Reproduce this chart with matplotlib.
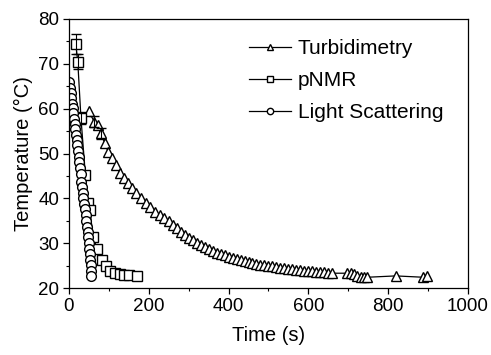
import matplotlib
matplotlib.use("Agg")
import matplotlib.pyplot as plt
from matplotlib.ticker import MultipleLocator

plt.rcParams['font.family'] = ['Liberation Sans', 'DejaVu Sans']

# Turbidimetry
turb_t = [50, 63, 72, 79, 90, 98, 108, 117, 127, 138, 148, 158, 169, 180, 192, 202,
          215, 227, 238, 250, 260, 270, 280, 290, 300, 310, 320, 330, 340, 350, 360,
          370, 380, 390, 400, 410, 420, 430, 440, 450, 460, 470, 480, 490, 500, 510,
          520, 530, 540, 550, 560, 570, 580, 590, 600, 610, 620, 630, 640, 650, 660,
          698, 707, 715, 723, 732, 740, 748, 819, 888, 898]
turb_T = [59.4, 57.1, 56.4, 54.5, 52.3, 50.4, 48.9, 47.5, 45.7, 44.5, 43.4, 42.3, 41.1,
          40.0, 38.9, 38.0, 37.0, 36.3, 35.6, 34.9, 34.1, 33.3, 32.6, 31.9, 31.2, 30.6,
          30.1, 29.6, 29.1, 28.7, 28.3, 27.9, 27.6, 27.3, 27.0, 26.7, 26.5, 26.2, 26.0,
          25.8, 25.6, 25.4, 25.2, 25.1, 24.9, 24.8, 24.6, 24.5, 24.4, 24.3, 24.2, 24.1,
          24.0, 23.9, 23.8, 23.7, 23.6, 23.6, 23.5, 23.4, 23.3,
          23.3, 23.4, 23.1, 22.7, 22.4, 22.4, 22.4, 22.7, 22.4, 22.7]
turb_err_idx = [1, 3]
turb_err = [1.2, 1.2]

# pNMR
nmr_t = [17, 22, 30, 41, 48, 52, 61, 71, 82, 92, 102, 115, 127, 138, 150, 170]
nmr_T = [74.5, 70.5, 57.9, 45.3, 38.9, 37.4, 31.3, 28.6, 26.2, 24.9, 23.8, 23.3,
         23.1, 22.9, 22.8, 22.7]
nmr_err = [2.2, 1.7, 1.4]

# Light scattering
ls_t = [1, 2.5, 4, 6, 7.5, 9, 11, 12.5, 14, 16, 17.5, 19, 21, 22.5, 24, 26, 27.5,
        29, 31, 33, 34, 36, 38, 40, 42, 43, 46, 47.5, 48.5, 50, 51, 52, 53, 54, 54.5, 55]
ls_T = [65.9, 64.7, 63.6, 62.3, 61.1, 60.1, 59.0, 57.7, 56.6, 55.4, 54.2, 53.0, 51.9,
        50.6, 49.3, 48.1, 46.8, 45.4, 43.7, 42.5, 41.1, 40.0, 38.8, 37.6, 36.3, 35.0,
        33.7, 32.4, 31.3, 30.0, 28.7, 27.5, 26.3, 25.1, 23.9, 22.7]

fig = plt.figure(figsize=(4.91, 3.55), dpi=100)
ax = fig.add_axes([0.1405, 0.1887, 0.8125, 0.7578])

mk = dict(markerfacecolor='white', markeredgecolor='black', markeredgewidth=1.0,
          color='black', linewidth=0.9)

ax.plot(turb_t, turb_T, marker='^', markersize=7, label='Turbidimetry', **mk)
ax.errorbar([turb_t[i] for i in turb_err_idx], [turb_T[i] for i in turb_err_idx],
            yerr=turb_err, fmt='none', ecolor='black', elinewidth=0.8, capsize=3.5)
ax.plot(nmr_t, nmr_T, marker='s', markersize=7, label='pNMR', **mk)
ax.errorbar(nmr_t[:3], nmr_T[:3], yerr=nmr_err, fmt='none', ecolor='black',
            elinewidth=0.8, capsize=3.5)
ax.plot(ls_t, ls_T, marker='o', markersize=7, label='Light Scattering', **mk)

ax.set_xlim(0, 1000)
ax.set_ylim(20, 80)
ax.xaxis.set_major_locator(MultipleLocator(200))
ax.xaxis.set_minor_locator(MultipleLocator(100))
ax.yaxis.set_major_locator(MultipleLocator(10))
ax.yaxis.set_minor_locator(MultipleLocator(5))
ax.tick_params(which='major', direction='out', length=4, width=0.9, labelsize=13.5,
               pad=3, top=False, right=False)
ax.tick_params(which='minor', direction='out', length=2.5, width=0.8,
               top=False, right=False)
for s in ax.spines.values():
    s.set_linewidth(0.9)

ax.set_xlabel('Time (s)', fontsize=14.5, labelpad=8)
ax.set_ylabel('Temperature (°C)', fontsize=14.5, labelpad=4)

leg = ax.legend(loc='upper left', bbox_to_anchor=(0.43, 0.955), frameon=False,
                fontsize=15, handlelength=2.0, handletextpad=0.35, labelspacing=0.62,
                markerscale=0.65, borderaxespad=0.0)

fig.savefig('out.png', dpi=100)
